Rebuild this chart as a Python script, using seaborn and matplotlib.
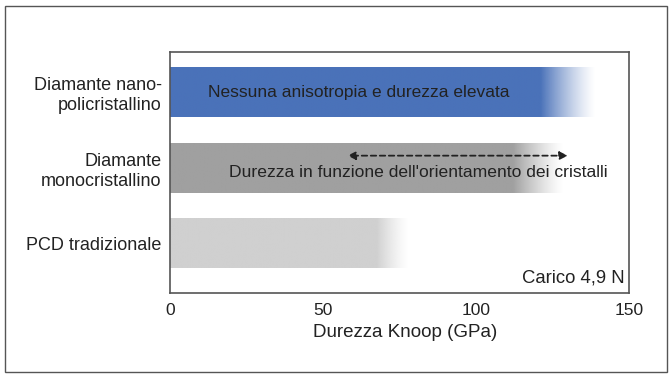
#!/usr/bin/env python3
"""
Knoop hardness comparison: horizontal bars fading out at their upper end.
"""

import numpy as np
import pandas as pd

import matplotlib
matplotlib.use('Agg')
import matplotlib.pyplot as plt
from matplotlib.colors import to_rgb
from matplotlib.patches import Rectangle
import seaborn as sns

# data
categories = ["Diamante nano-\npolicristallino", "Diamante\nmonocristallino", "PCD tradizionale"]
solid_end = [121, 112, 67.5]     # GPa where the bar stops being solid
fade_end = [139, 128.5, 78]      # GPa where the fade reaches white
bar_colors = ["#4a72b9", "#a0a0a0", "#d0d0d0"]
x_ticks = [0, 50, 100, 150]

# arrow range on the single-crystal bar
arrow_from, arrow_to = 58, 130


def main():
    sns.set_theme(style="white")
    plt.rcParams['font.family'] = ['Liberation Sans', 'DejaVu Sans']
    text_col = "#222222"

    fig = plt.figure(figsize=(6.69, 3.74), dpi=100)
    ax = fig.add_axes([170 / 669, 1 - 293 / 374, 459 / 669, 241 / 374])

    # outer frame
    fig.patches.append(Rectangle((5 / 669, 2 / 374), 662 / 669, 366 / 374,
                                 transform=fig.transFigure, fill=False,
                                 edgecolor="#555555", linewidth=1.0))

    df = pd.DataFrame({"cat": categories, "solid": solid_end})
    bar_h = 0.65
    sns.barplot(data=df, x="solid", y="cat", hue="cat", palette=bar_colors,
                orient="h", width=bar_h, legend=False, saturation=1,
                linewidth=0, edgecolor="none", ax=ax)

    # fading tails: one image per bar, opaque up to the solid end then fading
    n = 600
    for i, (s, e, c) in enumerate(zip(solid_end, fade_end, bar_colors)):
        xs = np.linspace(0, e, n)
        alpha = np.clip((e - xs) / (e - s), 0, 1) ** 1.3
        grad = np.zeros((1, n, 4))
        grad[..., :3] = to_rgb(c)
        grad[..., 3] = alpha
        ax.imshow(grad, extent=(0, e, i + bar_h / 2, i - bar_h / 2),
                  aspect="auto", interpolation="bilinear", zorder=2)

    ax.set_xlim(0, 150)
    ax.set_ylim(2.65, -0.535)
    ax.set_xticks(x_ticks)
    ax.tick_params(axis="x", direction="in", length=5, width=1, color="#333333",
                   labelsize=12.5, pad=7, labelcolor=text_col)
    for t in (ax.xaxis.get_major_ticks()[0], ax.xaxis.get_major_ticks()[-1]):
        t.tick1line.set_visible(False)
    ax.tick_params(axis="y", length=0, labelsize=13, pad=6, labelcolor=text_col)
    ax.set_xlabel("Durezza Knoop (GPa)", fontsize=13.5, color=text_col, labelpad=5)
    ax.xaxis.set_label_coords((405 - 170) / 459, -0.13)
    ax.set_ylabel("")
    for sp in ax.spines.values():
        sp.set_color("#555555")
        sp.set_linewidth(1.2)

    ax.text(61.8, 0.0, "Nessuna anisotropia e durezza elevata", ha="center", va="center",
            fontsize=12.5, color=text_col, zorder=3)
    ax.annotate("", xy=(arrow_from, 0.835), xytext=(arrow_to, 0.835),
                arrowprops=dict(arrowstyle="<|-|>", linestyle=(0, (3, 2)), color="#222222",
                                lw=1.3, mutation_scale=12, shrinkA=0, shrinkB=0), zorder=3)
    ax.text(81, 1.06, "Durezza in funzione dell'orientamento dei cristalli", ha="center",
            va="center", fontsize=12.6, color=text_col, zorder=3)
    ax.text(148.5, 2.45, "Carico 4,9 N", ha="right", va="center", fontsize=13.3,
            color=text_col, zorder=3)

    fig.savefig("out.png", dpi=100)
    plt.close(fig)


if __name__ == "__main__":
    main()
